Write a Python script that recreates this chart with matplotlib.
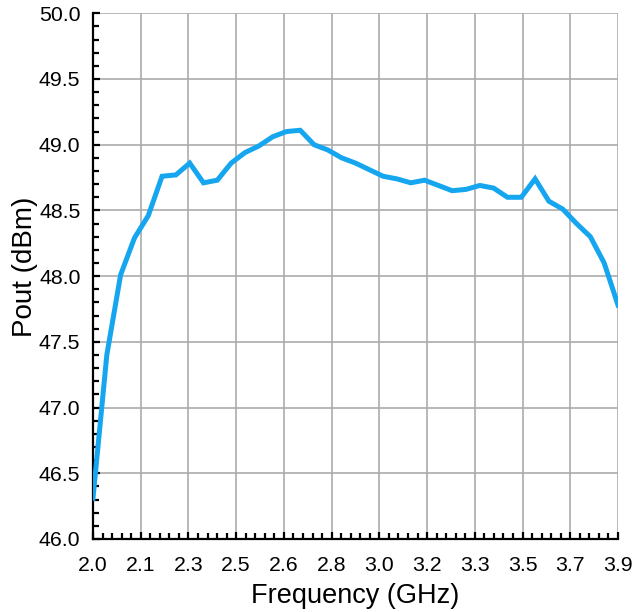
import matplotlib.pyplot as plt
from matplotlib.ticker import AutoMinorLocator
import numpy as np

plt.rcParams['font.family'] = ['Liberation Sans', 'DejaVu Sans']

# measured output power, 0.05 GHz steps
freq = [2.00, 2.05, 2.10, 2.15, 2.20, 2.25, 2.30, 2.35, 2.40, 2.45,
        2.50, 2.55, 2.60, 2.65, 2.70, 2.75, 2.80, 2.85, 2.90, 2.95,
        3.00, 3.05, 3.10, 3.15, 3.20, 3.25, 3.30, 3.35, 3.40, 3.45,
        3.50, 3.55, 3.60, 3.65, 3.70, 3.75, 3.80, 3.85, 3.90]
pout = [46.31, 47.40, 48.01, 48.29, 48.46, 48.76, 48.77, 48.86, 48.71, 48.73,
        48.86, 48.94, 48.99, 49.06, 49.10, 49.11, 49.00, 48.96, 48.90, 48.86,
        48.81, 48.76, 48.74, 48.71, 48.73, 48.69, 48.65, 48.66, 48.69, 48.67,
        48.60, 48.60, 48.74, 48.57, 48.51, 48.40, 48.30, 48.10, 47.78]

xtick_labels = ['2.0', '2.1', '2.3', '2.5', '2.6', '2.8', '3.0', '3.2',
                '3.3', '3.5', '3.7', '3.9']
xticks = np.linspace(2.0, 3.9, len(xtick_labels))
yticks = np.arange(46.0, 50.01, 0.5)

fig = plt.figure(figsize=(6.44, 6.12), dpi=100)
ax = fig.add_axes([0.1444, 0.1193, 0.8152, 0.8590])

ax.plot(freq, pout, color='#16A6F0', lw=3.6, solid_joinstyle='miter', zorder=3)

ax.set_xlim(2.0, 3.9)
ax.set_ylim(46.0, 50.0)
ax.set_xticks(xticks)
ax.set_xticklabels(xtick_labels)
ax.set_yticks(yticks)
ax.set_yticklabels([f'{v:.1f}' for v in yticks])
ax.xaxis.set_minor_locator(AutoMinorLocator(5))
ax.yaxis.set_minor_locator(AutoMinorLocator(5))

ax.grid(True, which='major', color='#ababab', lw=1.2)
ax.set_axisbelow(True)
for s in ['top', 'right']:
    ax.spines[s].set_visible(False)
for s in ['left', 'bottom']:
    ax.spines[s].set_linewidth(1.6)
    ax.spines[s].set_color('black')

ax.tick_params(which='both', direction='in', width=1.6, labelsize=15.3)
ax.tick_params(axis='x', pad=12)
ax.tick_params(axis='y', pad=9)
ax.tick_params(which='major', length=5)
ax.tick_params(which='minor', length=4)

ax.set_xlabel('Frequency (GHz)', fontsize=19.5)
ax.xaxis.set_label_coords(0.5, -0.083)
ax.set_ylabel('Pout (dBm)', fontsize=20)
ax.yaxis.set_label_coords(-0.104, 0.518)

fig.savefig('out.png', dpi=100)
